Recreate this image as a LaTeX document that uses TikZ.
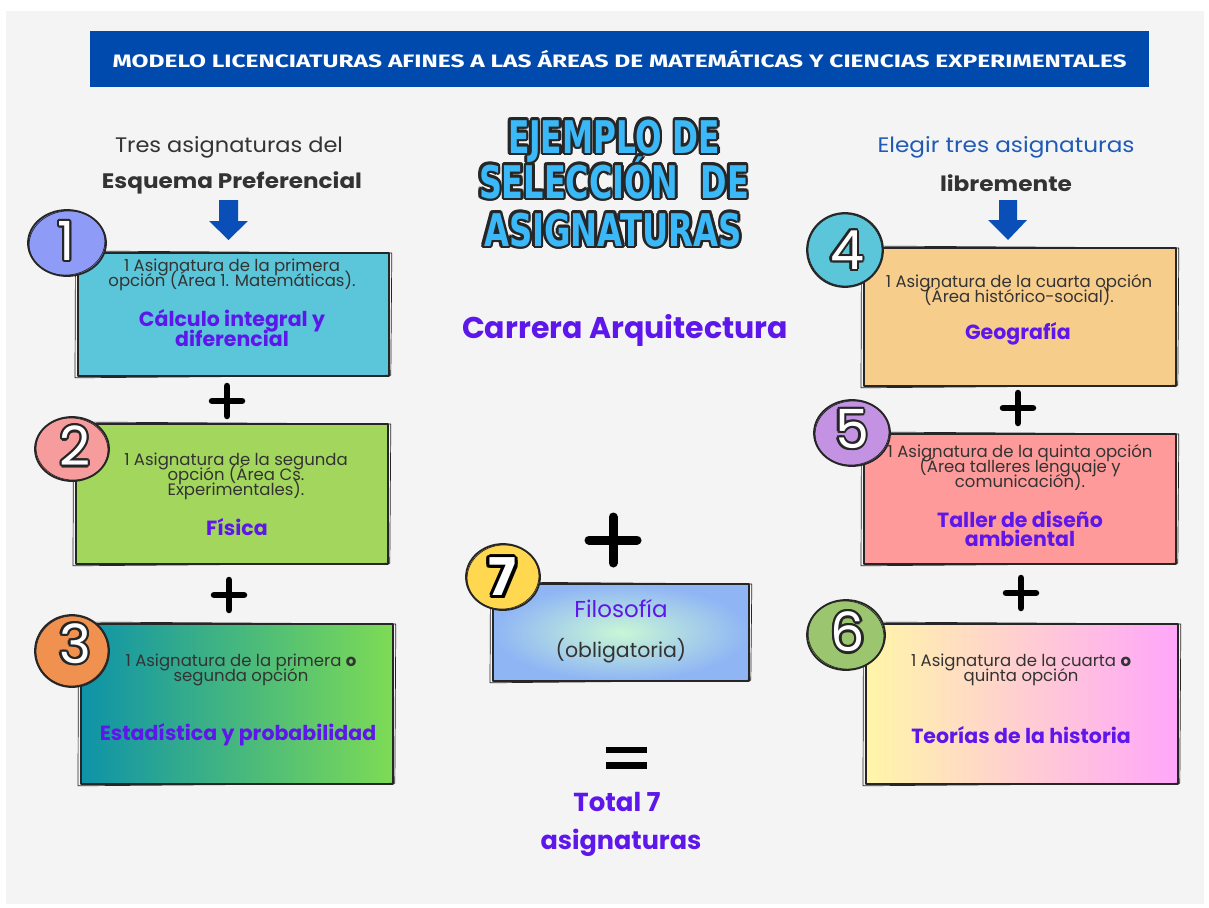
\documentclass[tikz,border=0pt]{standalone}
\usepackage{fontspec}
\setmainfont{Poppins}
\newfontfamily\firafont{Fira Sans}
\newfontfamily\djfont{DejaVu Sans}
\usepackage{graphicx}
\usetikzlibrary{shapes.geometric,calc}
\definecolor{ink}{HTML}{262626}
\definecolor{txt}{HTML}{333333}
\definecolor{purp}{HTML}{5E17EB}
\definecolor{banner}{HTML}{004AAD}
\definecolor{arrowc}{HTML}{0A4FB8}
\definecolor{hdrblue}{HTML}{1F5BB5}
\definecolor{titleblue}{HTML}{3AB8F7}
\definecolor{panel}{HTML}{F4F4F4}
\definecolor{cb1}{HTML}{5BC5D9}
\definecolor{cb2}{HTML}{A3D65C}
\definecolor{g3l}{HTML}{0E93A8}
\definecolor{g3r}{HTML}{7DDB55}
\definecolor{cb4}{HTML}{F7CD8C}
\definecolor{cb5}{HTML}{FF9A9A}
\definecolor{g6l}{HTML}{FFF6A8}
\definecolor{g6r}{HTML}{FFA6FA}
\definecolor{g7i}{HTML}{C9F7D6}
\definecolor{g7o}{HTML}{8FB5F5}
\definecolor{c1}{HTML}{8E9CF7}
\definecolor{c2}{HTML}{F79C9C}
\definecolor{c3}{HTML}{F0914F}
\definecolor{c4}{HTML}{5BC5D9}
\definecolor{c5}{HTML}{C392E3}
\definecolor{c6}{HTML}{9BC56E}
\definecolor{c7}{HTML}{FFD84F}
\newcommand{\fw}[2]{\resizebox{#1pt}{\height}{#2}}
\newcommand{\tightls}{\lineskiplimit=-30pt\relax\lineskip=0pt\relax}
\newcommand{\olnode}[7]{%
  \foreach \ang in {0,30,...,330}{\node[#3, text=#5] at ([shift={(\ang:#7)}]#2) {#4};}
  \node[#3, text=#6] (#1) at (#2) {#4};}
\tikzset{
  sketch/.style={draw=ink, line width=1.8pt, line join=round},
  thinsk/.style={draw=ink, line width=0.7pt, line join=round},
  box/.style={sketch, rectangle, inner sep=0pt, anchor=north west},
  badge/.style={sketch, ellipse, inner sep=0pt},
  small/.style={text=txt, font=\fontsize{16.5}{15}\selectfont\tightls, align=center, inner sep=0pt},
  subj/.style={text=purp, font=\fontsize{20.5}{20}\selectfont\bfseries\tightls, align=center, inner sep=0pt},
  hdr/.style={text=txt, font=\fontsize{21}{21}\selectfont, inner sep=0pt},
  digit/.style={font=\fontsize{54}{54}\selectfont, inner sep=0pt},
  digitb/.style={font=\fontsize{52}{52}\selectfont\bfseries, inner sep=0pt},
  ttl/.style={font=\djfont\fontsize{45}{45}\selectfont\bfseries, inner sep=0pt, anchor=base},
  plusbar/.style={draw=black, line width=6.5pt, line cap=round},
}
\begin{document}
\begin{tikzpicture}[x=1pt,y=-1pt]
\useasboundingbox (0,0) rectangle (1209,907);
\fill[white] (0,0) rectangle (1209,907);
\fill[panel] (6,11) rectangle (1204,904);

% banner
\node[fill=banner, minimum width=1059, minimum height=56, inner sep=0pt, anchor=north west] (ban) at (90,31) {};
\node[text=white, font=\firafont\fontsize{18}{18}\selectfont\bfseries, inner sep=0pt] (bantxt) at (ban.center) {\fw{1014}{MODELO LICENCIATURAS AFINES A LAS ÁREAS DE MATEMÁTICAS Y CIENCIAS EXPERIMENTALES}};

% big title
\olnode{t1}{614,153}{ttl}{\fw{212}{EJEMPLO DE}}{ink}{titleblue}{2.6pt}
\olnode{t2}{614,198}{ttl}{\fw{270}{SELECCIÓN\hspace{0.7em}DE}}{ink}{titleblue}{2.6pt}
\olnode{t3}{613,246}{ttl}{\fw{258}{ASIGNATURAS}}{ink}{titleblue}{2.6pt}

\node[text=purp, font=\fontsize{30}{30}\selectfont\bfseries, inner sep=0pt] (carrera) at (625,330) {Carrera Arquitectura};

% headers
\node[hdr] (h1) at (229,147) {\fw{228}{Tres asignaturas del}};
\node[hdr, font=\fontsize{21}{21}\selectfont\bfseries] (h2) at (232,183) {\fw{260}{Esquema Preferencial}};
\node[hdr, text=hdrblue] (h3) at (1006,147) {\fw{257}{Elegir tres asignaturas}};
\node[hdr, font=\fontsize{21}{21}\selectfont\bfseries] (h4) at (1006,183) {\fw{132}{libremente}};

% arrows
\fill[arrowc] (219,200) -- (238,200) -- (238,221) -- (248,221) -- (228.5,240) -- (209,221) -- (219,221) -- cycle;
\fill[arrowc] (999,200) -- (1017,200) -- (1017,220) -- (1027,220) -- (1008,240) -- (988,220) -- (999,220) -- cycle;

% boxes
\node[box, fill=cb1, minimum width=311, minimum height=123] (b1) at (77,252) {};
\node[box, fill=cb2, minimum width=312, minimum height=140] (b2) at (75,423) {};
\node[box, left color=g3l, right color=g3r, minimum width=312, minimum height=160] (b3) at (80,623) {};
\node[box, fill=cb4, minimum width=312, minimum height=138] (b4) at (863,247) {};
\node[box, fill=cb5, minimum width=312, minimum height=130] (b5) at (863,433) {};
\node[box, left color=g6l, right color=g6r, minimum width=312, minimum height=160] (b6) at (865,623) {};
\node[box, inner color=g7i, outer color=g7o, minimum width=256, minimum height=97] (b7) at (492,583) {};
\foreach \b in {b1,b2,b3,b4,b5,b6,b7}{
  \draw[thinsk] ([shift={(-1.5pt,1pt)}]\b.north west) -- ([shift={(2pt,-1pt)}]\b.north east)
     -- ([shift={(1pt,1.5pt)}]\b.south east) -- ([shift={(-2pt,-1pt)}]\b.south west) -- cycle;
}

% box texts
\node[small] (s1) at (232,275) {1 Asignatura de la primera\\opción (Área 1. Matemáticas).};
\node[subj] (p1) at (232,328) {Cálculo integral y\\diferencial};
\node[small] (s2) at (236,476) {1 Asignatura de la segunda\\opción (Área Cs.\\Experimentales).};
\node[subj] (p2) at (237,527) {Física};
\node[small] (s3) at (241,670) {1 Asignatura de la primera \textbf{o}\\segunda opción};
\node[subj] (p3) at (238,735) {Estadística y probabilidad};
\node[small] (s4) at (1019,290) {1 Asignatura de la cuarta opción\\(Área histórico-social).};
\node[subj] (p4) at (1018,334) {Geografía};
\node[small] (s5) at (1020,468) {1 Asignatura de la quinta opción\\(Área talleres lenguaje y\\comunicación).};
\node[subj, font=\fontsize{20.5}{18.5}\selectfont\bfseries\tightls] (p5) at (1020,529) {Taller de diseño\\ambiental};
\node[small] (s6) at (1021,670) {1 Asignatura de la cuarta \textbf{o}\\quinta opción};
\node[subj] (p6) at (1021,735) {Teorías de la historia};
\node[text=purp, font=\fontsize{23}{23}\selectfont, inner sep=0pt] (p7) at (621,609) {Filosofía};
\node[text=txt, font=\fontsize{20.5}{20.5}\selectfont, inner sep=0pt] (s7) at (621,651) {(obligatoria)};

% badges
\node[badge, fill=c1, minimum width=78, minimum height=66] (n1) at (67,243) {};
\node[badge, fill=c2, minimum width=74, minimum height=64] (n2) at (72,449) {};
\node[badge, fill=c3, minimum width=74, minimum height=72] (n3) at (72,651) {};
\node[badge, fill=c4, minimum width=76, minimum height=74] (n4) at (845,250) {};
\node[badge, fill=c5, minimum width=76, minimum height=66] (n5) at (852,433) {};
\node[badge, fill=c6, minimum width=78, minimum height=70] (n6) at (846,635) {};
\node[badge, fill=c7, minimum width=74, minimum height=66] (n7) at (503,577) {};
\foreach \n/\rx/\ry/\rot in {n1/38/32/8,n2/36/31/-6,n3/36/35/10,n4/37/36/-8,n5/37/32/6,n6/38/34/-10,n7/36/32/8}{
  \draw[thinsk] (\n.center) ellipse [x radius=\rx pt, y radius=\ry pt, rotate=\rot];
}

% digits
\olnode{d1}{66,241}{digit}{1}{ink}{white}{2.2pt}
\olnode{d2}{75,446}{digit}{2}{ink}{white}{2.2pt}
\olnode{d3}{75,644}{digit}{3}{ink}{white}{2.2pt}
\olnode{d4}{847,250}{digit}{4}{ink}{white}{2.2pt}
\olnode{d5}{852,429}{digit}{5}{ink}{white}{2.2pt}
\olnode{d6}{848,632}{digit}{6}{ink}{white}{2.2pt}
\node[digitb, text=black] at (505,580) {7};
\olnode{d7}{502,577}{digitb}{7}{black}{white}{3pt}

% plus signs
\draw[plusbar] (212,401) -- (242,401) (227,386) -- (227,416);
\draw[plusbar] (214,595) -- (244,595) (229,580) -- (229,610);
\draw[plusbar] (1003,408) -- (1033,408) (1018,393) -- (1018,423);
\draw[plusbar] (1006,593) -- (1036,593) (1021,578) -- (1021,608);
\draw[plusbar, line width=9pt] (589,540) -- (637,540) (613,517) -- (613,563);

% equals
\fill[black] (606,747) rectangle (647,753);
\fill[black] (606,762) rectangle (647,769);

\node[text=purp, font=\fontsize{26}{26}\selectfont\bfseries, inner sep=0pt] (tot1) at (617,802) {Total 7};
\node[text=purp, font=\fontsize{25.5}{25.5}\selectfont\bfseries, inner sep=0pt] (tot2) at (621,843) {asignaturas};
\end{tikzpicture}
\end{document}
